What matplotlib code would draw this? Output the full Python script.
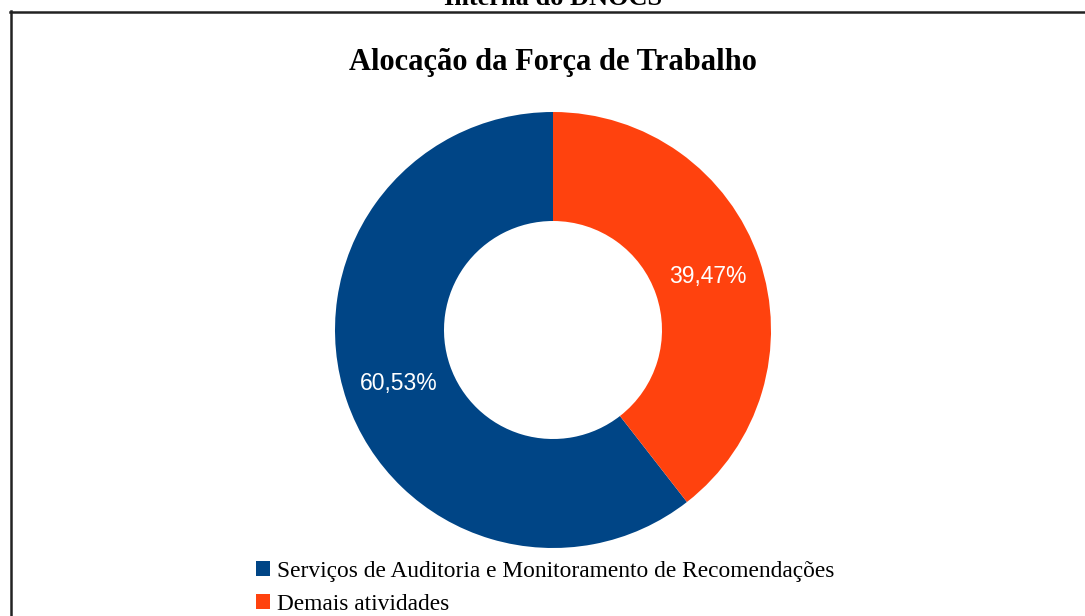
import matplotlib
matplotlib.use("Agg")
import matplotlib.pyplot as plt
from matplotlib.lines import Line2D
import numpy as np

categories = ["Serviços de Auditoria e Monitoramento de Recomendações", "Demais atividades"]
values = [60.53, 39.47]
labels_pct = ["60,53%", "39,47%"]
colors = ["#004586", "#ff420e"]
title = "Alocação da Força de Trabalho"
header = "Interna do DNOCS"

W, H = 1085, 616
fig = plt.figure(figsize=(W / 100, H / 100), dpi=100)
fig.patch.set_facecolor("white")

def fx(px):
    return px / W

def fy(py):
    return 1 - py / H

# pie axes: centre (553,330), radius 218 px
cx, cy, r = 553, 330, 218
ax = fig.add_axes([fx(cx - r), fy(cy + r), 2 * r / W, 2 * r / H])
wedges, _ = ax.pie(values, colors=colors, startangle=90, counterclock=True,
                   radius=1.0, wedgeprops=dict(width=0.5, linewidth=0))
ax.set_xlim(-1, 1)
ax.set_ylim(-1, 1)
ax.set_aspect("equal")
ax.axis("off")

start = 90.0
total = sum(values)
for v, lab in zip(values, labels_pct):
    ang = start + 360.0 * v / total / 2
    start += 360.0 * v / total
    x = 0.75 * np.cos(np.radians(ang))
    y = 0.75 * np.sin(np.radians(ang))
    ax.text(x, y, lab, ha="center", va="center", color="white",
            fontsize=16.5, family="Liberation Sans")

fig.text(fx(553), fy(70), title, ha="center", va="baseline",
         fontsize=22, fontweight="bold", family="Liberation Serif")
fig.text(fx(553), fy(5), header, ha="center", va="baseline",
         fontsize=19, fontweight="bold", family="Liberation Serif")

# border lines
fig.add_artist(Line2D([fx(10.5), fx(10.5)], [fy(11), fy(H + 5)], color="#222222", lw=1.8))
fig.add_artist(Line2D([fx(10), fx(W + 5)], [fy(11.5), fy(11.5)], color="#222222", lw=1.8))

leg = fig.legend(wedges, categories, loc="upper left",
                 bbox_to_anchor=(fx(256), fy(561)), frameon=False,
                 prop=dict(family="Liberation Serif", size=16.8),
                 handlelength=0.6, handleheight=0.6, handletextpad=0.3,
                 labelspacing=0.52, borderpad=0, borderaxespad=0)

fig.savefig("out.png", dpi=100, facecolor="white")
